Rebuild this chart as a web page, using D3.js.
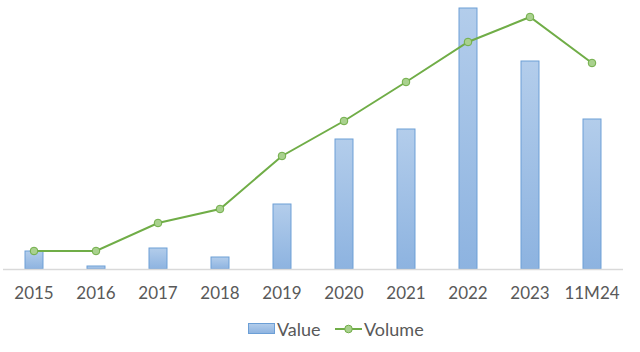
<!DOCTYPE html>
<html><head><meta charset="utf-8">
<script src="https://cdn.jsdelivr.net/npm/d3@7"></script>
<style>body{margin:0;background:#fff;}svg{display:block;font-family:Lato,"Open Sans",sans-serif;}</style>
</head><body>
<svg id="c" width="640" height="352"></svg>
<script>
const categories = ["2015","2016","2017","2018","2019","2020","2021","2022","2023","11M24"];
const valueSeries = [18, 3, 21, 12, 65, 130, 140, 261, 208, 150];
const volumeSeries = [18, 18, 46, 60, 113, 148, 187, 227, 252, 206];

(function(){
const svg = d3.select("#c");
const left = 3, right = 623, base = 269, plotTop = 8;
const x = d3.scaleBand().domain(categories).range([left, right]).paddingInner(0.71).paddingOuter(0.355);
const yV = d3.scaleLinear().domain([0, 261]).range([base, plotTop]);
const yL = d3.scaleLinear().domain([0, 261]).range([base, plotTop]);

const defs = svg.append("defs");
const g = defs.append("linearGradient").attr("id","bg").attr("x1",0).attr("y1",0).attr("x2",0).attr("y2",1);
g.append("stop").attr("offset","0%").attr("stop-color","#b3cdeb");
g.append("stop").attr("offset","100%").attr("stop-color","#8db3e0");

svg.append("g").selectAll("rect").data(valueSeries).join("rect")
  .attr("x",(d,i)=>x(categories[i])).attr("width",x.bandwidth())
  .attr("y",d=>yV(d)).attr("height",d=>base-yV(d))
  .attr("fill","url(#bg)").attr("stroke","#6c9fd6").attr("stroke-width",1);

svg.append("line").attr("x1",left).attr("x2",right).attr("y1",base+0.5).attr("y2",base+0.5)
  .attr("stroke","#d9d9d9").attr("stroke-width",1.5);

const line = d3.line().x((d,i)=>x(categories[i])+x.bandwidth()/2).y(d=>yL(d));
svg.append("path").datum(volumeSeries).attr("d",line).attr("fill","none").attr("stroke","#70ad47").attr("stroke-width",2);
svg.append("g").selectAll("circle").data(volumeSeries).join("circle")
  .attr("cx",(d,i)=>x(categories[i])+x.bandwidth()/2).attr("cy",d=>yL(d)).attr("r",3.8)
  .attr("fill","#a9d18e").attr("stroke","#70ad47").attr("stroke-width",1);

const axis = d3.axisBottom(x).tickSize(0).tickPadding(0);
const ax = svg.append("g").attr("transform",`translate(0,${base})`).call(axis);
ax.select(".domain").remove();
ax.selectAll("text").attr("dy",null).attr("y",30).attr("font-size","17px").attr("fill","#595959").attr("font-family","Lato,'Open Sans',sans-serif");

const leg = svg.append("g");
leg.append("rect").attr("x",248.5).attr("y",323.5).attr("width",26).attr("height",10).attr("fill","url(#bg)").attr("stroke","#6c9fd6");
leg.append("text").attr("x",277).attr("y",335.5).text("Value").attr("font-size","18px").attr("fill","#595959");
leg.append("line").attr("x1",335).attr("x2",362).attr("y1",329).attr("y2",329).attr("stroke","#70ad47").attr("stroke-width",2);
leg.append("circle").attr("cx",348.5).attr("cy",329).attr("r",3.8).attr("fill","#a9d18e").attr("stroke","#70ad47");
leg.append("text").attr("x",364).attr("y",335.5).text("Volume").attr("font-size","18px").attr("fill","#595959");
})();
</script>
</body></html>
